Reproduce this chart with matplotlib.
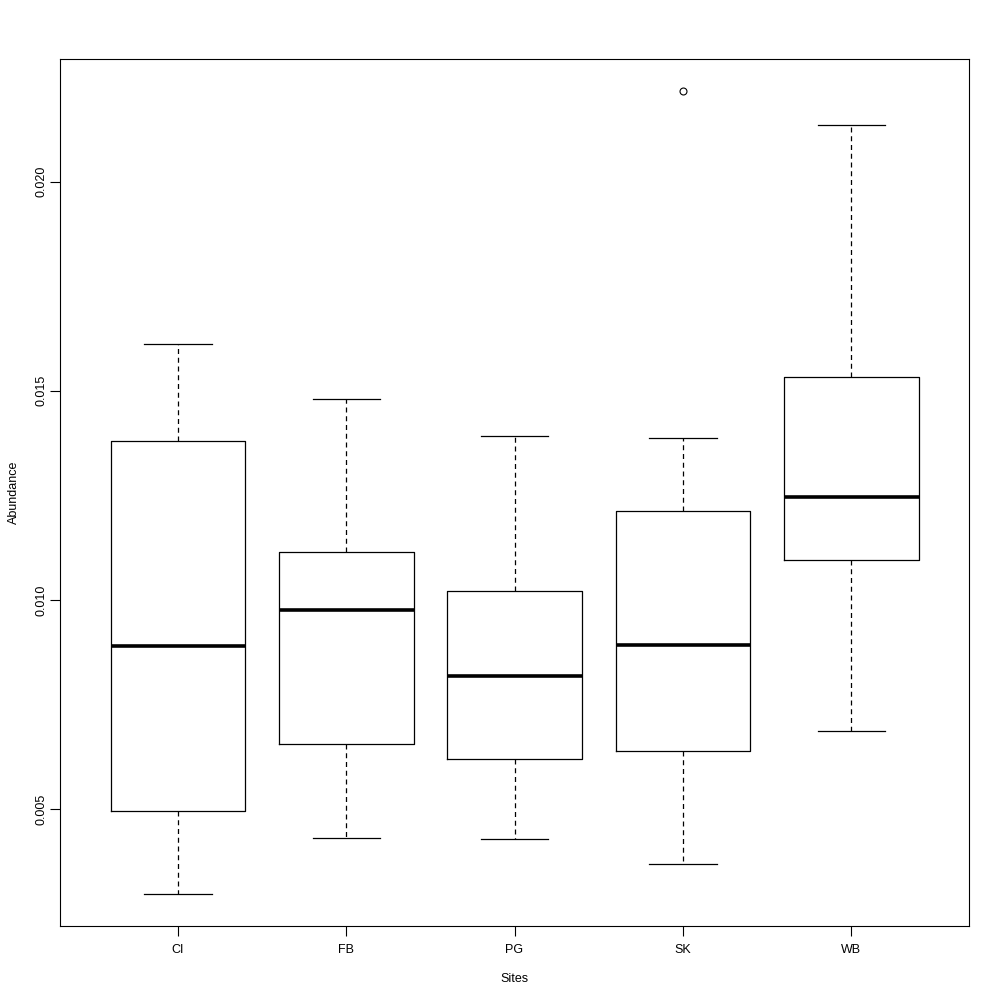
import numpy as np
import matplotlib
matplotlib.use("Agg")
import matplotlib.pyplot as plt

sites = ["CI", "FB", "PG", "SK", "WB"]
whisker_low = [0.00298, 0.00432, 0.00429, 0.00369, 0.00687]
q1 = [0.00496, 0.00656, 0.00620, 0.00639, 0.01096]
median = [0.00890, 0.00976, 0.00819, 0.00893, 0.01246]
q3 = [0.01380, 0.01115, 0.01022, 0.01213, 0.01533]
whisker_high = [0.01612, 0.01480, 0.01392, 0.01387, 0.02135]
outliers = [[], [], [], [0.02216], []]

plt.rcParams['font.family'] = ['Liberation Sans', 'DejaVu Sans']

stats = []
for i, s in enumerate(sites):
    stats.append({
        "label": s, "whislo": whisker_low[i], "q1": q1[i], "med": median[i],
        "q3": q3[i], "whishi": whisker_high[i], "fliers": outliers[i],
    })

fig = plt.figure(figsize=(10, 10), dpi=100)
ax = fig.add_axes([0.060, 0.074, 0.909, 0.867])

ax.bxp(stats, positions=np.arange(1, 6), widths=0.8, capwidths=0.4,
       showfliers=True, patch_artist=False,
       boxprops=dict(color="black", linewidth=0.9),
       medianprops=dict(color="black", linewidth=2.6, solid_capstyle="butt"),
       whiskerprops=dict(color="black", linewidth=0.9, linestyle=(0, (4, 3))),
       capprops=dict(color="black", linewidth=0.9),
       flierprops=dict(marker="o", markerfacecolor="none", markeredgecolor="black",
                       markersize=5, markeredgewidth=0.8))

# R-style 4% axis expansion
allvals = whisker_low + whisker_high + [v for o in outliers for v in o]
lo, hi = min(allvals), max(allvals)
pad = (hi - lo) * 0.04
ax.set_ylim(lo - pad, hi + pad)
xpad = (5.5 - 0.5) * 0.04
ax.set_xlim(0.5 - xpad, 5.5 + xpad)

ax.set_yticks([0.005, 0.010, 0.015, 0.020])
ax.set_yticklabels(["0.005", "0.010", "0.015", "0.020"], rotation=90, va="center")
ax.tick_params(axis="both", direction="out", length=7, width=0.8, labelsize=9)
ax.tick_params(axis="y", pad=2)
ax.tick_params(axis="x", pad=6)

for sp in ax.spines.values():
    sp.set_linewidth(0.8)

ax.set_xlabel("Sites", fontsize=9, labelpad=12)
ax.set_ylabel("Abundance", fontsize=9, labelpad=11)

fig.savefig("out.png", dpi=100)
